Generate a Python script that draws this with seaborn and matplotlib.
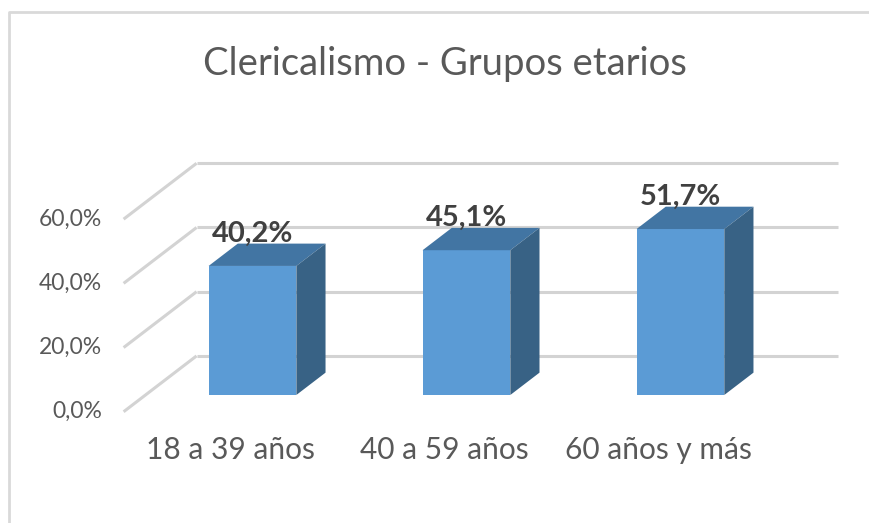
import matplotlib
matplotlib.use("Agg")
import matplotlib.pyplot as plt
from matplotlib.patches import Polygon
from matplotlib.lines import Line2D
import seaborn as sns

sns.set_style("white")
plt.rcParams['font.family'] = ['Lato', 'DejaVu Sans']

categories = ["18 a 39 años", "40 a 59 años", "60 años y más"]
values = [40.2, 45.1, 51.7]
grid_ticks = [0, 20, 40, 60]
title = "Clericalismo - Grupos etarios"

c_front = "#5b9bd5"
c_top = "#4275a3"
c_side = "#386285"
c_grid = "#d3d3d3"
c_text = "#595959"

# depth vector of the 3D box (data units: categories, percent)
dx, dy = 0.341, 17.4
front, bar_depth = 0.3, 0.4

fig = plt.figure(figsize=(8.7, 5.23), dpi=100)
ax = fig.add_axes([0, 0, 1, 1])
sns.barplot(x=categories, y=values, width=0.41, color=c_front, saturation=1,
            linewidth=0, ax=ax, zorder=3)

# walls: gridlines on back wall and on left side wall
for v in grid_ticks:
    ax.plot([-0.5 + (1 - front) * dx, 2.5 + (1 - front) * dx],
            [v + (1 - front) * dy] * 2, color=c_grid, lw=2.2, zorder=1,
            solid_capstyle='butt')
    ax.plot([-0.5 - front * dx, -0.5 + (1 - front) * dx],
            [v - front * dy, v + (1 - front) * dy], color=c_grid, lw=2.2,
            zorder=1, solid_capstyle='butt')
    lbl = f"{v:.1f}%".replace(".", ",")
    ax.text(-0.5 - front * dx - 0.1, v - front * dy, lbl, ha='right',
            va='center', fontsize=16.5, color=c_text)

# 3D top and side faces for every bar
bx, by = bar_depth * dx, bar_depth * dy
for p, v in zip(ax.patches, values):
    x0 = p.get_x()
    x1 = x0 + p.get_width()
    h = p.get_height()
    top = Polygon([(x0, h), (x1, h), (x1 + bx, h + by), (x0 + bx, h + by)],
                  closed=True, facecolor=c_top, edgecolor='none', zorder=3)
    side = Polygon([(x1, 0), (x1 + bx, by), (x1 + bx, h + by), (x1, h)],
                   closed=True, facecolor=c_side, edgecolor='none', zorder=3)
    ax.add_patch(top)
    ax.add_patch(side)
    ax.text((x0 + x1) / 2, h + by - 1.0, f"{v:.1f}%".replace(".", ","),
            ha='center', va='bottom', fontsize=21, fontweight='bold',
            color="#404040", zorder=4)

for i, cat in enumerate(categories):
    ax.text(i - front * dx, -17.1, cat, ha='center', va='center',
            fontsize=21.5, color=c_text)

ax.text(0.9, 103.2, title, ha='center', va='center', fontsize=27.5,
        color=c_text)

ax.set_xlim(-1.180, 2.886)
ax.set_ylim(-39.88, 123.05)
ax.axis('off')

# chart area border (top and left edges only)
fig.lines.append(Line2D([9 / 870, 9 / 870, 1], [0, 1 - 12 / 523, 1 - 12 / 523],
                        transform=fig.transFigure, color="#d9d9d9", lw=2))

fig.savefig("out.png", dpi=100)
